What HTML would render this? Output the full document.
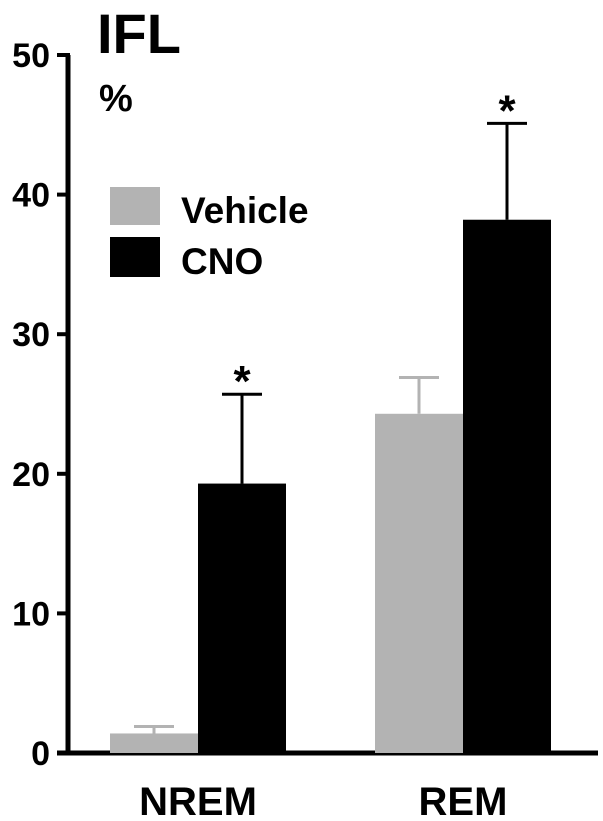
<!DOCTYPE html>
<html><head><meta charset="utf-8"><style>
body{margin:0;background:#fff}
svg{display:block;font-family:"Liberation Sans",Arial,sans-serif;font-weight:bold}
</style></head><body>
<svg width="603" height="821" viewBox="0 0 603 821">
<text x="97" y="53" font-size="56">IFL</text>
<text x="99" y="111" font-size="38">%</text>
<g id="axes"></g>
<g id="bars"></g>
<rect x="110" y="187" width="50" height="38" fill="#b3b3b3"/>
<text x="181" y="223" font-size="37">Vehicle</text>
<rect x="110" y="237" width="50" height="40" fill="#000"/>
<text x="181" y="274" font-size="37">CNO</text>
</svg>
<script>
const categories=["NREM","REM"];
const vehicle=[1.4,24.3];
const vehicleErr=[0.5,2.6];
const cno=[19.3,38.2];
const cnoErr=[6.4,6.9];
const sig=[true,true];
const ticks=[0,10,20,30,40,50];
const NS="http://www.w3.org/2000/svg";
const y0=753,pxPer=13.96;
const Y=v=>y0-v*pxPer;
const groupX=[110,375],bw=88;
function mk(t,a,p){const e=document.createElementNS(NS,t);for(const k in a)e.setAttribute(k,a[k]);(p).appendChild(e);return e;}
const ax=document.getElementById('axes'),bg=document.getElementById('bars');
let l=mk('line',{x1:68,y1:Y(50),x2:68,y2:y0+2,stroke:'#000','stroke-width':5},ax);


l=mk('line',{x1:57,y1:y0,x2:598,y2:y0,stroke:'#000','stroke-width':5},ax);


ticks.forEach(t=>{
 const tl=mk('line',{x1:57,y1:Y(t),x2:70,y2:Y(t),stroke:'#000','stroke-width':4},ax);
 
 
 const tx=mk('text',{x:50,y:Y(t)+12,'font-size':34,'text-anchor':'end'},ax);
 tx.textContent=t;
 
 
});
function bar(x,v,e,col,name){
 const b=mk('rect',{x:x,y:Y(v),width:bw,height:y0-Y(v),fill:col},bg);
 
 
 const cx=x+bw/2;
 const er=mk('path',{d:`M${cx} ${Y(v)} V${Y(v+e)} M${cx-20} ${Y(v+e)} H${cx+20}`,stroke:col,'stroke-width':3,fill:'none'},bg);
 
 
}
categories.forEach((c,i)=>{
 const gx=groupX[i];
 bar(gx,vehicle[i],vehicleErr[i],'#b3b3b3','bar-vehicle-'+c.toLowerCase());
 bar(gx+bw,cno[i],cnoErr[i],'#000','bar-cno-'+c.toLowerCase());
 if(sig[i]){const s=mk('text',{x:gx+bw+bw/2,y:Y(cno[i]+cnoErr[i])+2,'font-size':44,'text-anchor':'middle'},bg);
  s.textContent='*';
  
  }
 const t=mk('text',{x:gx+bw,y:815,'font-size':40,'text-anchor':'middle'},bg);
 t.textContent=c;
 
 
});
</script>
</body></html>
